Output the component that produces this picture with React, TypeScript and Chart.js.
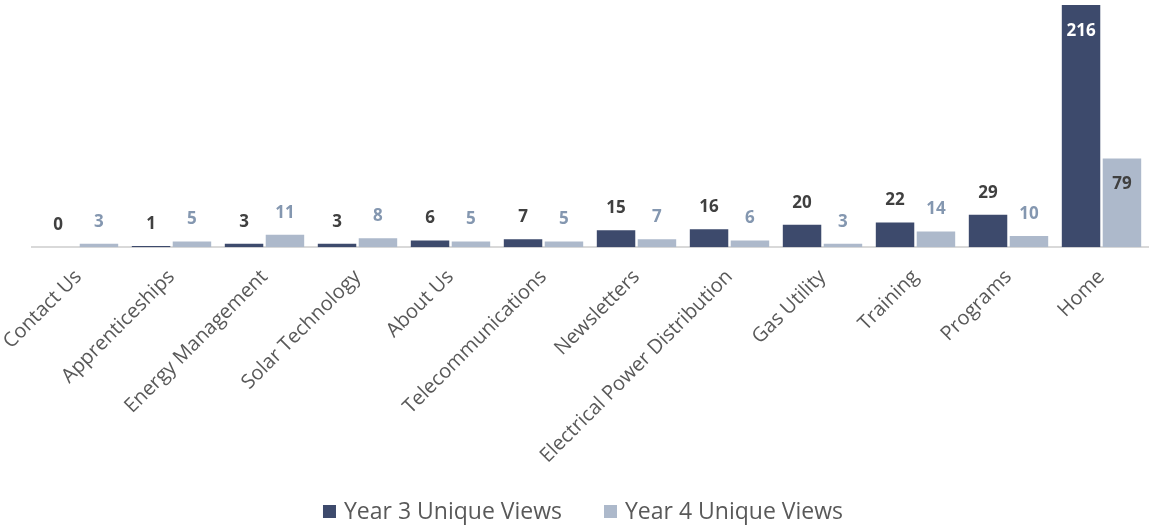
import React, { useEffect, useRef } from "react";
import { Chart, registerables } from "chart.js";

Chart.register(...registerables);

const categories = [
  "Contact Us",
  "Apprenticeships",
  "Energy Management",
  "Solar Technology",
  "About Us",
  "Telecommunications",
  "Newsletters",
  "Electrical Power Distribution",
  "Gas Utility",
  "Training",
  "Programs",
  "Home",
];
const year3 = [0, 1, 3, 3, 6, 7, 15, 16, 20, 22, 29, 216];
const year4 = [3, 5, 11, 8, 5, 5, 7, 6, 3, 14, 10, 79];
const seriesNames = ["Year 3 Unique Views", "Year 4 Unique Views"];
const seriesColors = ["#3d4a6c", "#adb9cb"];

const FONT = "'Open Sans', 'Noto Sans', sans-serif";

const labelPlugin = {
  id: "barLabels",
  afterDatasetsDraw(chart: any) {
    const ctx = chart.ctx;
    ctx.save();
    ctx.font = `bold 17px ${FONT}`;
    ctx.textAlign = "center";
    ctx.textBaseline = "middle";
    const yMax = chart.scales.y.max;
    chart.data.datasets.forEach((ds: any, di: number) => {
      const meta = chart.getDatasetMeta(di);
      meta.data.forEach((bar: any, i: number) => {
        const v = ds.data[i];
        const inside = v > yMax * 0.3;
        let y;
        let color;
        if (inside) {
          y = bar.y + 26;
          color = di === 0 ? "#ffffff" : "#404040";
        } else {
          y = bar.y - 22;
          color = di === 0 ? "#404040" : "#8497b0";
        }
        ctx.fillStyle = color;
        ctx.fillText(String(v), bar.x, y);
      });
    });
    ctx.restore();
  },
};

const legendPlugin = {
  id: "customLegend",
  afterDraw(chart: any) {
    const ctx = chart.ctx;
    ctx.save();
    ctx.font = `23px ${FONT}`;
    ctx.textBaseline = "alphabetic";
    ctx.textAlign = "left";
    const box = 13;
    const gap = 8;
    const spacing = 42;
    const widths = seriesNames.map((n) => ctx.measureText(n).width);
    const total = widths.reduce((a, w) => a + box + gap + w, 0) + spacing * (seriesNames.length - 1);
    let x = chart.width / 2 + 8 - total / 2;
    const baseline = 519;
    seriesNames.forEach((n, i) => {
      ctx.fillStyle = seriesColors[i];
      ctx.fillRect(x, 505, box, box);
      x += box + gap;
      ctx.fillStyle = "#595959";
      ctx.fillText(n, x, baseline);
      x += widths[i] + spacing;
    });
    ctx.restore();
  },
};

export default function App() {
  const ref = useRef<HTMLCanvasElement>(null);
  useEffect(() => {
    if (!ref.current) return;
    const chart = new Chart(ref.current, {
      type: "bar",
      data: {
        labels: categories,
        datasets: [
          {
            label: seriesNames[0],
            data: year3,
            backgroundColor: seriesColors[0],
            categoryPercentage: 0.88,
            barPercentage: 0.94,
          },
          {
            label: seriesNames[1],
            data: year4,
            backgroundColor: seriesColors[1],
            categoryPercentage: 0.88,
            barPercentage: 0.94,
          },
        ],
      },
      options: {
        animation: false,
        responsive: true,
        maintainAspectRatio: false,
        layout: { padding: { top: 5, right: 2, left: 32, bottom: 47 } },
        scales: {
          x: {
            grid: { display: false },
            border: { color: "#d9d9d9", width: 2 },
            afterFit: (s: any) => {
              s.paddingLeft = 0;
              s.paddingRight = 0;
            },
            ticks: {
              minRotation: 45,
              maxRotation: 45,
              color: "#595959",
              font: { family: FONT, size: 20 },
              padding: 10,
            },
          },
          y: {
            display: false,
            min: 0,
            max: 216,
          },
        },
        plugins: {
          legend: { display: false },
          tooltip: { enabled: false },
        },
      },
      plugins: [labelPlugin, legendPlugin],
    });
    return () => chart.destroy();
  }, []);
  return (
    <div style={{ position: "fixed", left: 0, top: 0, width: 1150, height: 525, background: "#fff" }}>
      <canvas ref={ref} />
    </div>
  );
}
